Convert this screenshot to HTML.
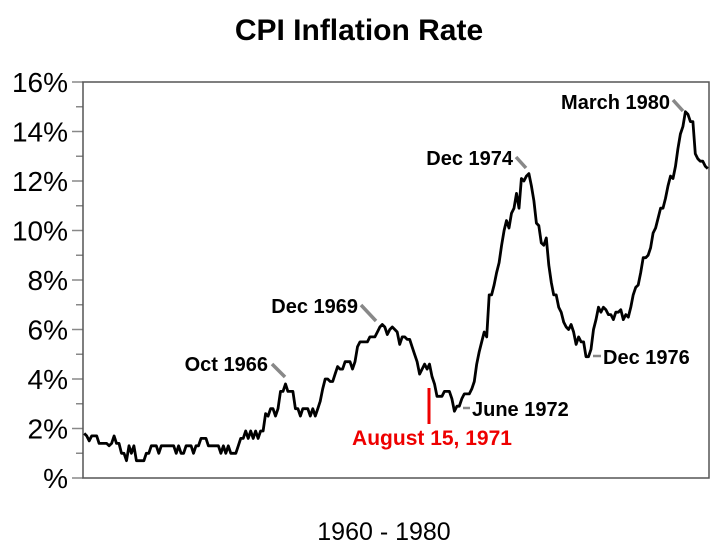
<!DOCTYPE html>
<html><head><meta charset="utf-8"><style>
html,body{margin:0;padding:0;background:#fff;}
svg{display:block;font-family:"Liberation Sans",Arial,sans-serif;}
</style></head><body>
<svg id="chart" width="725" height="552" viewBox="0 0 725 552">
<text x="359" y="40" text-anchor="middle" font-size="30" font-weight="bold">CPI Inflation Rate</text>
<g id="yaxis"></g>
<rect x="83" y="82" width="626" height="396" fill="none" stroke="#555" stroke-width="1.5"/>
<path id="line" fill="none" stroke="#000" stroke-width="2.8" stroke-linejoin="round"/>
<g font-size="20" font-weight="bold">
<line x1="272" y1="364" x2="285" y2="377" stroke="#888" stroke-width="3.5"/>
<text x="268" y="371" text-anchor="end">Oct 1966</text>
<line x1="361" y1="305" x2="376" y2="321" stroke="#888" stroke-width="3.5"/>
<text x="358" y="313" text-anchor="end">Dec 1969</text>
<line x1="516" y1="157" x2="526" y2="168" stroke="#888" stroke-width="3.5"/>
<text x="513" y="165" text-anchor="end">Dec 1974</text>
<line x1="673" y1="100" x2="683" y2="111" stroke="#888" stroke-width="3.5"/>
<text x="670" y="109" text-anchor="end">March 1980</text>
<line x1="593" y1="356" x2="601" y2="356" stroke="#888" stroke-width="2.5"/>
<text x="603" y="364">Dec 1976</text>
<line x1="463" y1="408" x2="470" y2="408" stroke="#888" stroke-width="2.5"/>
<text x="472" y="416">June 1972</text>
<line x1="429" y1="388" x2="429" y2="424" stroke="#e00" stroke-width="3"/>
<text x="432" y="445" text-anchor="middle" fill="#e00" font-size="21">August 15, 1971</text>
</g>
<text x="384" y="540" text-anchor="middle" font-size="25">1960 - 1980</text>
</svg>
<script>
const yTicks=[0,2,4,6,8,10,12,14,16];
const yTickLabels=["%","2%","4%","6%","8%","10%","12%","14%","16%"];
const cpiYoY=[
1.8,1.7,1.5,1.7,1.7,1.7,1.4,1.4,1.4,1.4,1.3,1.4,
1.7,1.4,1.4,1.0,1.0,0.7,1.3,1.0,1.3,0.7,0.7,0.7,
0.7,1.0,1.0,1.3,1.3,1.3,1.0,1.3,1.3,1.3,1.3,1.3,
1.3,1.0,1.3,1.0,1.0,1.3,1.3,1.3,1.0,1.3,1.3,1.6,
1.6,1.6,1.3,1.3,1.3,1.3,1.3,1.0,1.3,1.0,1.3,1.0,
1.0,1.0,1.3,1.6,1.6,1.9,1.6,1.9,1.6,1.9,1.6,1.9,
1.9,2.6,2.5,2.8,2.8,2.5,2.8,3.5,3.5,3.8,3.5,3.5,
3.5,2.8,2.8,2.5,2.8,2.8,2.8,2.5,2.8,2.5,2.8,3.1,
3.6,4.0,4.0,3.9,3.9,4.2,4.5,4.4,4.4,4.7,4.7,4.7,
4.4,4.7,5.3,5.5,5.5,5.5,5.5,5.7,5.7,5.7,5.9,6.1,
6.2,6.1,5.8,6.0,6.1,6.0,5.9,5.4,5.7,5.7,5.6,5.6,
5.3,5.0,4.7,4.2,4.4,4.6,4.4,4.6,4.1,3.8,3.3,3.3,
3.3,3.5,3.5,3.5,3.2,2.7,2.9,2.9,3.2,3.4,3.4,3.4,
3.6,3.9,4.6,5.1,5.5,5.9,5.7,7.4,7.4,7.8,8.3,8.7,
9.4,10.0,10.4,10.1,10.7,10.9,11.5,10.9,12.1,12.0,12.2,12.3,
11.8,11.2,10.3,10.2,9.5,9.4,9.7,8.6,7.9,7.4,7.4,6.9,
6.7,6.3,6.1,6.0,6.2,5.9,5.4,5.7,5.5,5.5,4.9,4.9,
5.2,6.0,6.4,6.9,6.7,6.9,6.8,6.6,6.6,6.4,6.7,6.7,
6.8,6.4,6.6,6.5,6.9,7.4,7.7,7.8,8.3,8.9,8.9,9.0,
9.3,9.9,10.1,10.5,10.9,10.9,11.3,11.8,12.2,12.1,12.6,13.3,
13.9,14.2,14.8,14.7,14.4,14.4,13.1,12.9,12.8,12.8,12.6,12.5];
const X0=83,X1=709,Y0=478,Y1=82;
function xScale(i){return X0+(i+0.5)*(X1-X0)/cpiYoY.length;}
function yScale(v){return Y0-v*(Y0-Y1)/16;}
const NS="http://www.w3.org/2000/svg";
const yg=document.getElementById('yaxis');
for(let k=0;k<16;k++){
  const v=k+1;
  if(v%2===0)continue;
  const t=document.createElementNS(NS,'line');
  
  
  t.setAttribute('x1',76);t.setAttribute('x2',X0);
  t.setAttribute('y1',yScale(v));t.setAttribute('y2',yScale(v));
  t.setAttribute('stroke','#888');t.setAttribute('stroke-width','1.5');
  yg.appendChild(t);
}
yTicks.forEach((v,i)=>{
  const t=document.createElementNS(NS,'line');
  
  
  t.setAttribute('x1',72);t.setAttribute('x2',X0);
  t.setAttribute('y1',yScale(v));t.setAttribute('y2',yScale(v));
  t.setAttribute('stroke','#888');t.setAttribute('stroke-width','1.5');
  yg.appendChild(t);
  const l=document.createElementNS(NS,'text');
  
  
  l.setAttribute('x',68);l.setAttribute('y',yScale(v)+10);
  l.setAttribute('text-anchor','end');l.setAttribute('font-size','28');
  l.textContent=yTickLabels[i];
  yg.appendChild(l);
});
let d='';
cpiYoY.forEach((v,i)=>{
  const x=xScale(i),y=yScale(v);
  d+=(i===0?'M':'L')+x.toFixed(1)+' '+y.toFixed(1);
});
document.getElementById('line').setAttribute('d',d);
</script>
</body></html>
